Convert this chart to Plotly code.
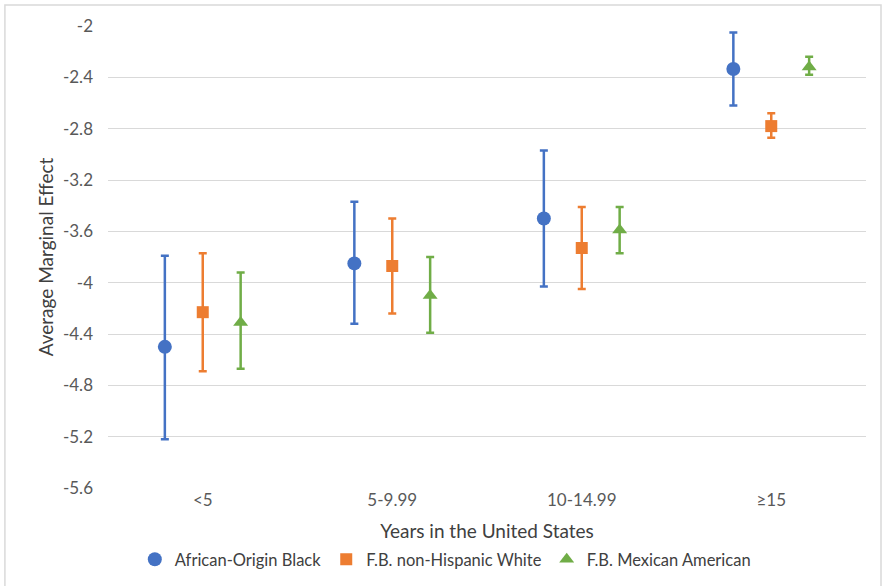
import plotly.graph_objects as go

# Years-in-US categories
categories = ["<5", "5-9.99", "10-14.99", "≥15"]

# Average marginal effects with upper / lower confidence bounds
black_mean = [-4.50, -3.85, -3.50, -2.335]
black_upper = [-3.79, -3.37, -2.97, -2.05]
black_lower = [-5.22, -4.32, -4.03, -2.62]

white_mean = [-4.23, -3.87, -3.73, -2.78]
white_upper = [-3.77, -3.50, -3.41, -2.68]
white_lower = [-4.69, -4.24, -4.05, -2.87]

mexican_mean = [-4.31, -4.10, -3.59, -2.32]
mexican_upper = [-3.92, -3.80, -3.41, -2.24]
mexican_lower = [-4.67, -4.39, -3.77, -2.38]

y_ticks = [-2, -2.4, -2.8, -3.2, -3.6, -4, -4.4, -4.8, -5.2, -5.6]

series = [
    ("African-Origin Black", black_mean, black_upper, black_lower, "#4472C4", "circle", 14),
    ("F.B. non-Hispanic White", white_mean, white_upper, white_lower, "#ED7D31", "square", 12),
    ("F.B. Mexican American", mexican_mean, mexican_upper, mexican_lower, "#70AD47", "triangle-up", 13),
]

fig = go.Figure()
for name, mean, upper, lower, color, symbol, size in series:
    fig.add_trace(go.Scatter(
        x=categories,
        y=mean,
        mode="markers",
        name=name,
        marker=dict(color=color, symbol=symbol, size=size),
        error_y=dict(
            type="data",
            symmetric=False,
            array=[u - m for u, m in zip(upper, mean)],
            arrayminus=[m - l for m, l in zip(mean, lower)],
            color=color,
            thickness=2.5,
            width=4,
        ),
    ))

font_family = "Lato, Open Sans, sans-serif"

fig.update_layout(
    width=886,
    height=586,
    margin=dict(l=108, r=20, t=26, b=98, autoexpand=False),
    paper_bgcolor="white",
    plot_bgcolor="white",
    scattermode="group",
    scattergap=0.4,
    font=dict(family=font_family, size=16, color="#404040"),
    xaxis=dict(
        type="category",
        title=dict(text="Years in the United States", font=dict(size=19, color="#404040"), standoff=17),
        tickfont=dict(size=17, color="#595959"),
        showgrid=False,
        showline=False,
        ticks="",
        ticklabelstandoff=0,
        automargin=False,
    ),
    yaxis=dict(
        range=[-5.6, -2],
        tickvals=y_ticks,
        ticktext=[f"{v:g}" for v in y_ticks],
        tickfont=dict(size=17, color="#595959"),
        title=dict(text="Average Marginal Effect", font=dict(size=19, color="#404040"), standoff=4),
        showgrid=True,
        gridcolor="#D9D9D9",
        gridwidth=1,
        zeroline=False,
        showline=False,
        ticks="",
        ticklabelstandoff=14,
        automargin=False,
    ),
    legend=dict(
        orientation="h",
        x=0.445,
        xanchor="center",
        yref="container",
        y=(586 - 542) / 586,
        yanchor="top",
        font=dict(size=16.5, color="#404040"),
        itemwidth=30,
        tracegroupgap=0,
    ),
    shapes=[
        dict(
            type="rect", xref="paper", yref="paper",
            x0=-0.136, x1=1.0198, y0=-0.22, y1=1.0455,
            line=dict(color="#D9D9D9", width=1.5),
            fillcolor="rgba(0,0,0,0)",
            layer="below",
        )
    ],
)

fig.write_html("out.html")
